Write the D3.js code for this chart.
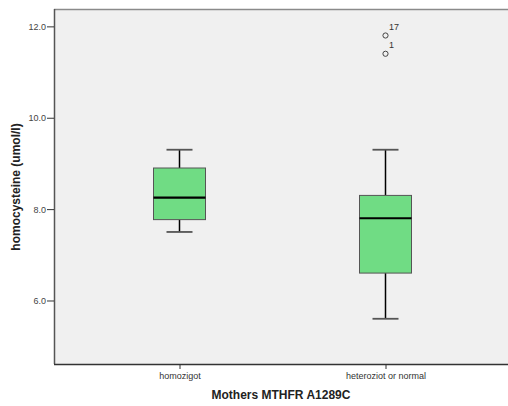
<!DOCTYPE html>
<html><head><meta charset="utf-8">
<script src="https://cdn.jsdelivr.net/npm/d3@7"></script>
<style>body{margin:0;background:#fff;} svg{display:block;font-family:"Liberation Sans",Arial,sans-serif;}</style>
</head><body><svg id="c" width="508" height="406"></svg>
<script>
const categories = ["homozigot", "heteroziot or normal"];
const whiskerLow = [7.5, 5.6];
const q1 = [7.77, 6.6];
const medians = [8.25, 7.8];
const q3 = [8.9, 8.3];
const whiskerHigh = [9.3, 9.3];
const outlierValues = [[], [11.8, 11.4]];
const outlierLabels = [[], ["17", "1"]];
const yTicks = [6, 8, 10, 12];

const svg = d3.select("#c");
const L = 54, R = 508, T = 9, B = 364;
const y = d3.scaleLinear().domain([4.61, 12.38]).range([B, T]);
const x = d3.scalePoint().domain(categories).range([179.5, 385.5]);
const boxW = 52, capW = 26;

svg.append("rect").attr("x", L).attr("y", T).attr("width", R - L).attr("height", B - T).attr("fill", "#f0f0f0");
svg.append("line").attr("x1", L).attr("x2", R).attr("y1", T + 0.5).attr("y2", T + 0.5).attr("stroke", "#8a8a8a").attr("stroke-width", 1.5);

const data = categories.map((c, i) => ({c, lo: whiskerLow[i], q1: q1[i], med: medians[i], q3: q3[i], hi: whiskerHigh[i], out: outlierValues[i], lab: outlierLabels[i]}));
const g = svg.append("g");
data.forEach(d => {
  const cx = x(d.c);
  g.append("line").attr("x1", cx).attr("x2", cx).attr("y1", y(d.hi)).attr("y2", y(d.q3)).attr("stroke", "#000").attr("stroke-width", 1.5);
  g.append("line").attr("x1", cx).attr("x2", cx).attr("y1", y(d.q1)).attr("y2", y(d.lo)).attr("stroke", "#000").attr("stroke-width", 1.5);
  [d.hi, d.lo].forEach(v => g.append("line").attr("x1", cx - capW / 2).attr("x2", cx + capW / 2).attr("y1", y(v)).attr("y2", y(v)).attr("stroke", "#555").attr("stroke-width", 1.8));
  g.append("rect").attr("x", cx - boxW / 2).attr("y", y(d.q3)).attr("width", boxW).attr("height", y(d.q1) - y(d.q3)).attr("fill", "#70dc84").attr("stroke", "#555").attr("stroke-width", 1);
  g.append("line").attr("x1", cx - boxW / 2).attr("x2", cx + boxW / 2).attr("y1", y(d.med)).attr("y2", y(d.med)).attr("stroke", "#000").attr("stroke-width", 2.2);
  d.out.forEach((v, j) => {
    g.append("circle").attr("cx", cx).attr("cy", y(v)).attr("r", 2.6).attr("fill", "none").attr("stroke", "#444").attr("stroke-width", 1);
    g.append("text").attr("x", cx + 3.5).attr("y", y(v) - 5.5).attr("font-size", 9).attr("fill", "#333").text(d.lab[j]);
  });
});

const ya = svg.append("g").attr("transform", `translate(${L},0)`)
  .call(d3.axisLeft(y).tickValues(yTicks).tickFormat(d3.format(".1f")).tickSize(7).tickPadding(1));
ya.select(".domain").attr("stroke", "#555").attr("stroke-width", 1.5).attr("d", `M0.5,${T}V${B}`);
ya.selectAll(".tick line").attr("stroke", "#333");
ya.selectAll(".tick text").attr("font-size", 9).attr("fill", "#444").attr("font-family", "Liberation Sans, Arial, sans-serif");

const xa = svg.append("g").attr("transform", `translate(0,${B})`)
  .call(d3.axisBottom(x).tickSize(5).tickPadding(4));
xa.select(".domain").attr("stroke", "#333").attr("stroke-width", 1.5).attr("d", `M${L},0.5H${R}`);
xa.selectAll(".tick line").attr("stroke", "#333");
xa.selectAll(".tick text").attr("font-size", 9).attr("fill", "#333").attr("font-family", "Liberation Sans, Arial, sans-serif");

svg.append("text").attr("x", 281).attr("y", 399).attr("text-anchor", "middle").attr("font-size", 12).attr("font-weight", "bold").attr("fill", "#222").text("Mothers MTHFR A1289C");
svg.append("text").attr("transform", "translate(20,187) rotate(-90)").attr("text-anchor", "middle").attr("font-size", 12).attr("font-weight", "bold").attr("fill", "#222").text("homocysteine (umol/l)");
</script></body></html>
